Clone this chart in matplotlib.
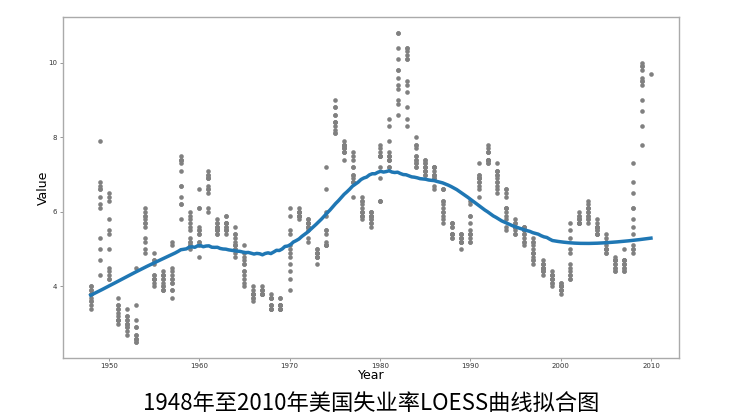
import matplotlib.pyplot as plt
import numpy as np

# monthly US unemployment rate, one row per year (1948-2009), plus Jan 2010
years = list(range(1948, 2010))
rates = [
    [3.4, 3.8, 4.0, 3.9, 3.5, 3.6, 3.6, 3.9, 3.8, 3.7, 3.8, 4.0],
    [4.3, 4.7, 5.0, 5.3, 6.1, 6.2, 6.7, 6.8, 6.6, 7.9, 6.4, 6.6],
    [6.5, 6.4, 6.3, 5.8, 5.5, 5.4, 5.0, 4.5, 4.4, 4.2, 4.2, 4.3],
    [3.7, 3.4, 3.4, 3.1, 3.0, 3.2, 3.1, 3.1, 3.3, 3.5, 3.5, 3.1],
    [3.2, 3.1, 2.9, 2.9, 3.0, 3.0, 3.2, 3.4, 3.1, 3.0, 2.8, 2.7],
    [2.9, 2.6, 2.6, 2.7, 2.5, 2.5, 2.6, 2.7, 2.9, 3.1, 3.5, 4.5],
    [4.9, 5.2, 5.7, 5.9, 5.9, 5.6, 5.8, 6.0, 6.1, 5.7, 5.3, 5.0],
    [4.9, 4.7, 4.6, 4.7, 4.3, 4.2, 4.0, 4.2, 4.1, 4.3, 4.2, 4.2],
    [4.0, 3.9, 4.2, 4.0, 4.3, 4.3, 4.4, 4.1, 3.9, 3.9, 4.3, 4.2],
    [4.2, 3.9, 3.7, 3.9, 4.1, 4.3, 4.2, 4.1, 4.4, 4.5, 5.1, 5.2],
    [5.8, 6.4, 6.7, 7.4, 7.4, 7.3, 7.5, 7.4, 7.1, 6.7, 6.2, 6.2],
    [6.0, 5.9, 5.6, 5.2, 5.1, 5.0, 5.1, 5.2, 5.5, 5.7, 5.8, 5.3],
    [5.2, 4.8, 5.4, 5.2, 5.1, 5.4, 5.5, 5.6, 5.5, 6.1, 6.1, 6.6],
    [6.6, 6.9, 6.9, 7.0, 7.1, 6.9, 7.0, 6.6, 6.7, 6.5, 6.1, 6.0],
    [5.8, 5.5, 5.6, 5.6, 5.5, 5.5, 5.4, 5.7, 5.6, 5.4, 5.7, 5.5],
    [5.7, 5.9, 5.7, 5.7, 5.9, 5.6, 5.6, 5.4, 5.5, 5.5, 5.7, 5.5],
    [5.6, 5.4, 5.4, 5.3, 5.1, 5.2, 4.9, 5.0, 5.1, 5.1, 4.8, 5.0],
    [4.9, 5.1, 4.7, 4.8, 4.6, 4.6, 4.4, 4.4, 4.3, 4.2, 4.1, 4.0],
    [4.0, 3.8, 3.8, 3.8, 3.9, 3.8, 3.8, 3.8, 3.7, 3.7, 3.6, 3.8],
    [3.9, 3.8, 3.8, 3.8, 3.8, 3.9, 3.8, 3.8, 3.8, 4.0, 3.9, 3.8],
    [3.7, 3.8, 3.7, 3.5, 3.5, 3.7, 3.7, 3.5, 3.4, 3.4, 3.4, 3.4],
    [3.4, 3.4, 3.4, 3.4, 3.4, 3.5, 3.5, 3.5, 3.7, 3.7, 3.5, 3.5],
    [3.9, 4.2, 4.4, 4.6, 4.8, 4.9, 5.0, 5.1, 5.4, 5.5, 5.9, 6.1],
    [5.9, 5.9, 6.0, 5.9, 5.9, 5.9, 6.0, 6.1, 6.0, 5.8, 6.0, 6.0],
    [5.8, 5.7, 5.8, 5.7, 5.7, 5.7, 5.6, 5.6, 5.5, 5.6, 5.3, 5.2],
    [4.9, 5.0, 4.9, 5.0, 4.9, 4.9, 4.8, 4.8, 4.8, 4.6, 4.8, 4.9],
    [5.1, 5.2, 5.1, 5.1, 5.1, 5.4, 5.5, 5.5, 5.9, 6.0, 6.6, 7.2],
    [8.1, 8.1, 8.6, 8.8, 9.0, 8.8, 8.6, 8.4, 8.4, 8.4, 8.3, 8.2],
    [7.9, 7.7, 7.6, 7.7, 7.4, 7.6, 7.8, 7.8, 7.6, 7.7, 7.8, 7.8],
    [7.5, 7.6, 7.4, 7.2, 7.0, 7.2, 6.9, 7.0, 6.8, 6.8, 6.8, 6.4],
    [6.4, 6.3, 6.3, 6.1, 6.0, 5.9, 6.2, 5.9, 6.0, 5.8, 5.9, 6.0],
    [5.9, 5.9, 5.8, 5.8, 5.6, 5.7, 5.7, 6.0, 5.9, 6.0, 5.9, 6.0],
    [6.3, 6.3, 6.3, 6.9, 7.5, 7.6, 7.8, 7.7, 7.5, 7.5, 7.5, 7.2],
    [7.5, 7.4, 7.4, 7.2, 7.5, 7.5, 7.2, 7.4, 7.6, 7.9, 8.3, 8.5],
    [8.6, 8.9, 9.0, 9.3, 9.4, 9.6, 9.8, 9.8, 10.1, 10.4, 10.8, 10.8],
    [10.4, 10.4, 10.3, 10.2, 10.1, 10.1, 9.4, 9.5, 9.2, 8.8, 8.5, 8.3],
    [8.0, 7.8, 7.8, 7.7, 7.4, 7.2, 7.5, 7.5, 7.3, 7.4, 7.2, 7.3],
    [7.3, 7.2, 7.2, 7.3, 7.2, 7.4, 7.4, 7.1, 7.1, 7.1, 7.0, 7.0],
    [6.7, 7.2, 7.2, 7.1, 7.2, 7.2, 7.0, 6.9, 7.0, 7.0, 6.9, 6.6],
    [6.6, 6.6, 6.6, 6.3, 6.3, 6.2, 6.1, 6.0, 5.9, 6.0, 5.8, 5.7],
    [5.7, 5.7, 5.7, 5.4, 5.6, 5.4, 5.4, 5.6, 5.4, 5.4, 5.3, 5.3],
    [5.4, 5.2, 5.0, 5.2, 5.2, 5.3, 5.2, 5.2, 5.3, 5.3, 5.4, 5.4],
    [5.4, 5.3, 5.2, 5.4, 5.4, 5.2, 5.5, 5.7, 5.9, 5.9, 6.2, 6.3],
    [6.4, 6.6, 6.8, 6.7, 6.9, 6.9, 6.8, 6.9, 6.9, 7.0, 7.0, 7.3],
    [7.3, 7.4, 7.4, 7.4, 7.6, 7.8, 7.7, 7.6, 7.6, 7.3, 7.4, 7.4],
    [7.3, 7.1, 7.0, 7.1, 7.1, 7.0, 6.9, 6.8, 6.7, 6.8, 6.6, 6.5],
    [6.6, 6.6, 6.5, 6.4, 6.1, 6.1, 6.1, 6.0, 5.9, 5.8, 5.6, 5.5],
    [5.6, 5.4, 5.4, 5.8, 5.6, 5.6, 5.7, 5.7, 5.6, 5.5, 5.6, 5.6],
    [5.6, 5.5, 5.5, 5.6, 5.6, 5.3, 5.5, 5.1, 5.2, 5.2, 5.4, 5.4],
    [5.3, 5.2, 5.2, 5.1, 4.9, 5.0, 4.9, 4.8, 4.9, 4.7, 4.6, 4.7],
    [4.6, 4.6, 4.7, 4.3, 4.4, 4.5, 4.5, 4.5, 4.6, 4.5, 4.4, 4.4],
    [4.3, 4.4, 4.2, 4.3, 4.2, 4.3, 4.3, 4.2, 4.2, 4.1, 4.1, 4.0],
    [4.0, 4.1, 4.0, 3.8, 4.0, 4.0, 4.0, 4.1, 3.9, 3.9, 3.9, 3.9],
    [4.2, 4.2, 4.3, 4.4, 4.3, 4.5, 4.6, 4.9, 5.0, 5.3, 5.5, 5.7],
    [5.7, 5.7, 5.7, 5.9, 5.8, 5.8, 5.8, 5.7, 5.7, 5.7, 5.9, 6.0],
    [5.8, 5.9, 5.9, 6.0, 6.1, 6.3, 6.2, 6.1, 6.1, 6.0, 5.8, 5.7],
    [5.7, 5.6, 5.8, 5.6, 5.6, 5.6, 5.5, 5.4, 5.4, 5.5, 5.4, 5.4],
    [5.3, 5.4, 5.2, 5.2, 5.1, 5.0, 5.0, 4.9, 5.0, 5.0, 5.0, 4.9],
    [4.7, 4.8, 4.7, 4.7, 4.6, 4.6, 4.7, 4.7, 4.5, 4.4, 4.5, 4.4],
    [4.6, 4.5, 4.4, 4.5, 4.4, 4.6, 4.7, 4.6, 4.7, 4.7, 4.7, 5.0],
    [5.0, 4.9, 5.1, 5.0, 5.4, 5.6, 5.8, 6.1, 6.1, 6.5, 6.8, 7.3],
    [7.8, 8.3, 8.7, 9.0, 9.4, 9.5, 9.5, 9.6, 9.8, 10.0, 9.9, 9.9],
]
last_year = 2010
last_rate = [9.7]

x = np.array([y for y, row in zip(years, rates) for _ in row] + [last_year] * len(last_rate), dtype=float)
y = np.array([v for row in rates for v in row] + last_rate, dtype=float)


def loess(x, y, xs, frac=0.33, it=3):
    # local linear fit, tricube weights, with robustness iterations
    k = int(np.ceil(frac * len(x)))
    rw = np.ones_like(y)
    pts = np.concatenate([x, xs])
    for _ in range(it + 1):
        fit = []
        for x0 in pts:
            d = np.abs(x - x0)
            h = np.sort(d)[k - 1]
            w = np.clip(1 - (d / h) ** 3, 0, None) ** 3 * rw
            W = np.sqrt(w)
            A = np.vstack([np.ones_like(x), x - x0]).T
            beta = np.linalg.lstsq(A * W[:, None], y * W, rcond=None)[0]
            fit.append(beta[0])
        fit = np.array(fit)
        res = y - fit[:len(x)]
        s = np.median(np.abs(res))
        rw = np.clip(1 - (res / (6 * s)) ** 2, 0, None) ** 2
    return fit[len(x):]


xs = np.linspace(x.min(), x.max(), 200)
ys = loess(x, y, xs, frac=0.33, it=3)

fig = plt.figure(figsize=(7.49, 4.2), dpi=100)
ax = fig.add_axes([0.0837, 0.148, 0.8228, 0.8108])

ax.scatter(x, y, c='gray', s=11, linewidths=0)
ax.plot(xs, ys, color='#1f77b4', lw=2.5)

ax.set_xlabel('Year', fontsize=9, labelpad=0)
ax.set_ylabel('Value', fontsize=9, labelpad=-1)
ax.tick_params(labelsize=5, length=2, width=0.6, color='#888888', labelcolor='#333333', pad=2)
for s in ax.spines.values():
    s.set_color('#aaaaaa')
    s.set_linewidth(1.0)

fig.text(0.495, 0.04, '1948年至2010年美国失业率LOESS曲线拟合图', ha='center', va='center',
         fontsize=16, family=['Noto Sans CJK SC', 'DejaVu Sans'])

fig.savefig('out.png', dpi=100)
